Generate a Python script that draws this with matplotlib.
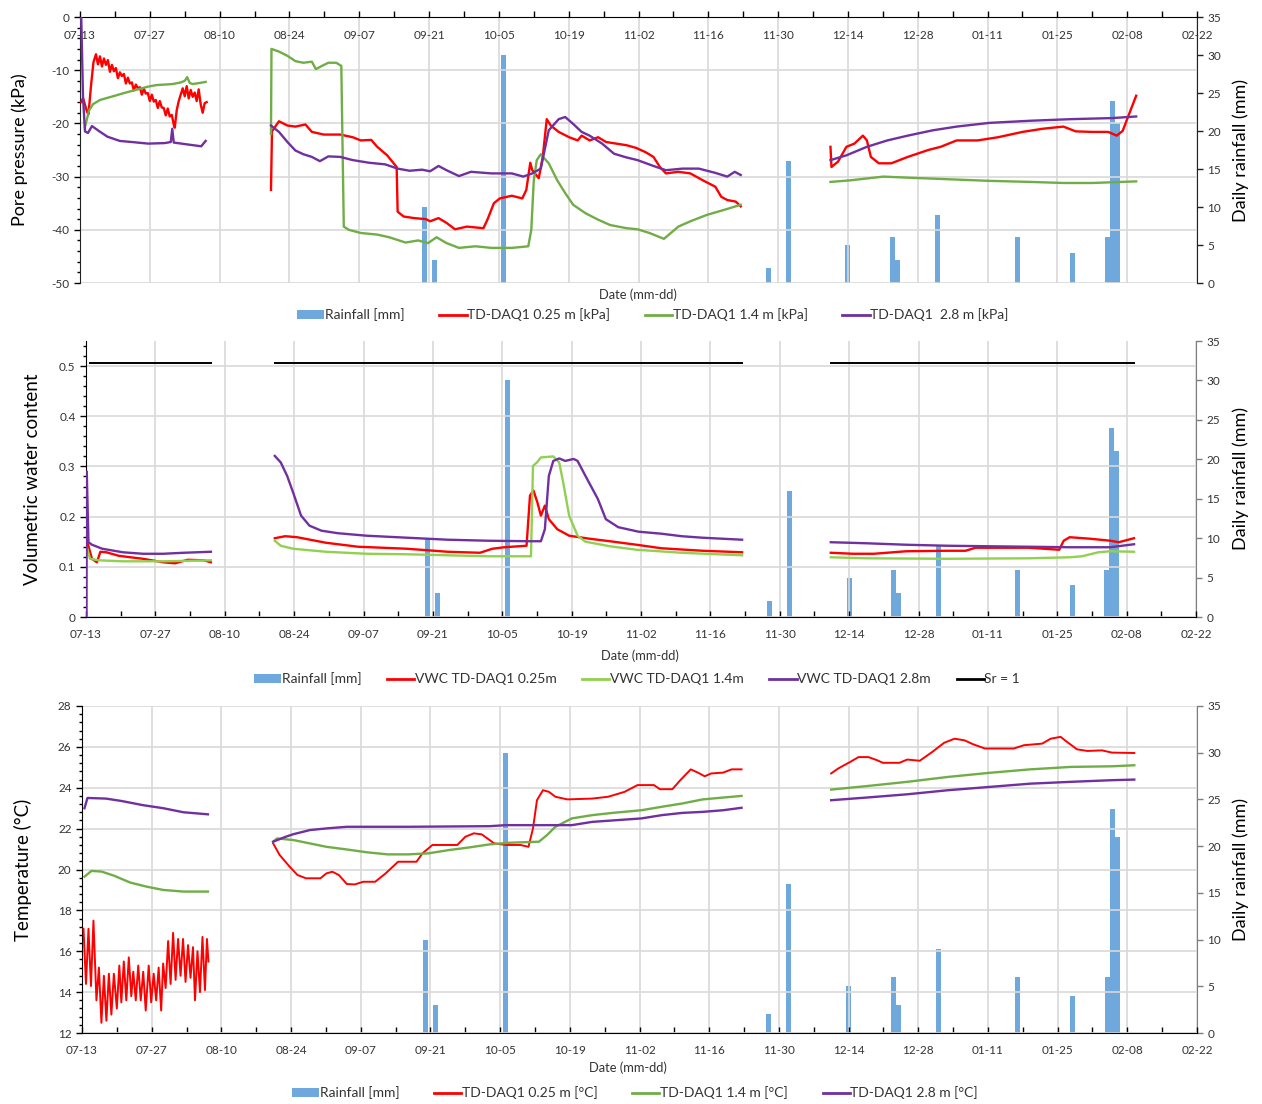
import numpy as np
import matplotlib
matplotlib.use('Agg')
import matplotlib.pyplot as plt
import matplotlib.dates as mdates
from matplotlib.ticker import FixedLocator, MultipleLocator, FuncFormatter
from matplotlib.patches import Patch
from matplotlib.lines import Line2D

plt.rcParams['font.family'] = ['Lato', 'DejaVu Sans']
plt.rcParams['axes.unicode_minus'] = False

START = mdates.datestr2num('2020-07-13')   # day 0 of the record

# daily rainfall (day offset from 07-13, mm)
rain_days = [69, 71, 85, 138, 142, 154, 163, 164, 172, 188, 199, 206, 207, 208]
rain_mm = [10, 3, 30, 2, 16, 5, 6, 3, 9, 6, 4, 6, 24, 21]

# ---- pore pressure (kPa), three logging periods each ----
pp_red_days = [
    [0.3, 0.6, 1.0, 1.4, 1.7, 2.2, 2.7, 3.2, 3.6, 4.0, 4.4, 4.8, 5.2, 5.6, 6.0, 6.4, 6.8, 7.2, 7.6, 8.0,
     8.4, 8.8, 9.2, 9.6, 10.0, 10.4, 10.8, 11.2, 11.6, 12.0, 12.4, 12.8, 13.2, 13.6, 14.0, 14.4, 14.8,
     15.2, 15.6, 16.0, 16.4, 16.8, 17.2, 17.6, 18.0, 18.4, 18.8, 19.0, 19.4, 19.8, 20.2, 20.6, 21.0,
     21.4, 21.8, 22.2, 22.6, 23.0, 23.4, 23.8, 24.2, 24.6, 25.0, 25.4],
    [38.3, 38.5, 39.9, 41.6, 43.2, 45.2, 46.5, 48.9, 52.2, 54.7, 56.3, 58.4, 59.6, 61.6, 62.9, 63.5,
     63.7, 64.9, 67.0, 69.4, 70.2, 71.9, 73.5, 75.2, 77.6, 80.9, 81.7, 83.0, 84.2, 86.6, 88.7, 89.5,
     90.3, 90.7, 92.0, 92.8, 93.6, 94.4, 96.0, 98.1, 99.8, 100.6, 102.2, 103.9, 105.5, 109.6, 111.5,
     113.4, 115.0, 116.3, 117.5, 120.0, 122.4, 124.9, 127.4, 128.6, 129.8, 131.5, 132.5],
    [150.5, 150.7, 152.0, 153.7, 155.3, 157.0, 157.8, 158.6, 160.2, 162.7, 166.0, 170.1, 172.6, 175.8,
     180.0, 184.1, 189.0, 193.1, 197.2, 199.7, 203.0, 206.2, 207.9, 209.1, 210.4, 211.8],
]
pp_red_vals = [
    [-16.0, -15.2, -16.5, -17.8, -18.3, -13.0, -8.5, -7.0, -8.9, -7.4, -9.3, -7.8, -9.0, -8.1, -10.3,
     -9.0, -10.2, -9.6, -11.5, -10.4, -11.1, -10.7, -12.5, -11.4, -12.5, -12.3, -13.8, -12.7, -13.4,
     -13.2, -14.6, -13.5, -14.4, -14.3, -15.8, -14.6, -15.9, -15.6, -17.1, -15.8, -17.0, -17.1, -18.5,
     -17.2, -18.7, -18.4, -20.2, -20.8, -17.5, -15.8, -14.6, -13.4, -14.9, -13.0, -15.3, -13.7, -15.0,
     -14.2, -15.8, -13.6, -16.4, -18.0, -16.2, -16.0],
    [-32.5, -21.5, -19.6, -20.4, -20.6, -20.2, -21.6, -22.1, -22.1, -22.6, -23.2, -23.1, -24.4, -26.0,
     -27.5, -28.2, -36.6, -37.5, -37.8, -38.0, -38.4, -37.8, -38.7, -39.9, -39.4, -39.7, -38.1, -35.0,
     -34.1, -33.6, -34.1, -32.5, -27.4, -28.8, -30.3, -26.3, -19.2, -20.4, -21.6, -22.6, -23.2, -22.3,
     -23.2, -22.6, -23.5, -24.1, -24.6, -25.4, -26.3, -28.2, -29.4, -29.1, -29.4, -30.7, -31.9, -33.8,
     -34.4, -34.7, -35.6],
    [-24.4, -28.2, -27.2, -24.4, -23.8, -22.3, -23.2, -26.3, -27.5, -27.5, -26.3, -25.0, -24.4, -23.2,
     -23.2, -22.6, -21.6, -21.0, -20.6, -21.5, -21.6, -21.6, -22.3, -21.4, -18.2, -14.8],
]
pp_green_days = [
    [1.0, 1.8, 2.6, 4.0, 5.5, 7.0, 8.8, 10.4, 12.0, 13.6, 15.3, 17.0, 18.6, 20.2, 21.0, 21.5, 22.0,
     22.6, 24.0, 25.2],
    [38.3, 38.4, 39.9, 41.6, 43.2, 44.8, 46.5, 47.3, 48.5, 49.8, 51.4, 52.4, 52.9, 53.9, 56.3, 59.6,
     62.0, 65.3, 67.8, 69.8, 71.5, 73.5, 76.0, 79.3, 82.5, 86.6, 89.9, 90.5, 91.0, 91.6, 92.4, 94.0,
     95.7, 97.3, 98.9, 101.4, 103.9, 106.3, 109.6, 111.8, 114.2, 117.1, 120.0, 122.4, 125.7, 129.0,
     132.5],
    [150.5, 154.5, 161.1, 166.0, 174.2, 182.4, 190.6, 197.2, 203.0, 211.8],
]
pp_green_vals = [
    [-20.7, -17.6, -16.4, -15.6, -15.2, -14.8, -14.3, -13.9, -13.5, -13.1, -12.8, -12.7, -12.6, -12.3,
     -12.0, -11.3, -12.4, -12.6, -12.4, -12.2],
    [-22.0, -6.0, -6.5, -7.3, -8.3, -8.6, -8.4, -9.8, -9.2, -8.6, -8.6, -9.2, -39.4, -40.0, -40.6,
     -40.9, -41.4, -42.4, -42.0, -42.5, -41.4, -42.5, -43.4, -43.1, -43.4, -43.4, -43.1, -40.0, -30.7,
     -26.9, -25.8, -27.5, -30.7, -33.1, -35.3, -36.9, -38.1, -39.1, -39.7, -39.9, -40.6, -41.7, -39.4,
     -38.4, -37.2, -36.3, -35.3],
    [-31.0, -30.7, -30.0, -30.2, -30.5, -30.8, -31.0, -31.2, -31.2, -30.9],
]
pp_purple_days = [
    [0.25, 0.6, 1.0, 1.6, 2.4, 3.9, 5.5, 8.0, 10.4, 13.7, 17.0, 18.2, 18.5, 18.8, 21.9, 24.3, 25.2],
    [38.3, 39.9, 41.6, 43.2, 44.8, 46.5, 48.1, 49.8, 52.2, 54.7, 58.0, 61.2, 63.7, 66.1, 68.6, 70.2,
     71.9, 73.5, 76.0, 78.4, 82.5, 86.6, 88.9, 90.7, 92.4, 94.0, 96.0, 97.3, 98.9, 100.6, 102.2, 104.7,
     107.1, 109.6, 111.8, 115.0, 117.5, 120.8, 124.1, 127.4, 129.8, 131.3, 132.5],
    [150.5, 153.7, 157.8, 161.9, 166.0, 171.0, 175.8, 182.4, 190.6, 198.8, 207.0, 211.8],
]
pp_purple_vals = [
    [0.0, -15.0, -21.5, -21.8, -20.5, -21.5, -22.5, -23.3, -23.5, -23.8, -23.7, -23.5, -21.0, -23.6,
     -24.0, -24.3, -23.3],
    [-20.4, -21.6, -23.5, -25.1, -25.8, -26.3, -27.1, -26.2, -26.3, -26.9, -27.4, -27.7, -28.5, -28.9,
     -28.7, -29.0, -28.0, -28.8, -29.9, -29.1, -29.4, -29.4, -30.0, -29.4, -28.5, -21.3, -19.2, -18.8,
     -20.1, -21.6, -22.3, -23.8, -25.7, -26.4, -26.9, -28.0, -28.8, -28.5, -28.5, -29.3, -30.0, -29.1,
     -29.7],
    [-26.9, -26.0, -24.4, -23.2, -22.3, -21.3, -20.6, -19.9, -19.5, -19.2, -19.0, -18.7],
]

# ---- volumetric water content ----
vwc_red_days = [
    [0.25, 1.2, 2.2, 2.9, 4.1, 6.6, 9.0, 11.5, 15.6, 18.0, 20.5, 23.8, 25.2],
    [38.1, 40.2, 42.6, 48.4, 54.9, 64.8, 73.0, 79.5, 82.0, 84.4, 88.9, 89.6, 90.3, 91.1, 91.8, 92.6,
     93.4, 95.1, 97.5, 101.6, 105.7, 111.1, 116.1, 124.4, 132.4],
    [150.3, 154.8, 159.0, 165.5, 173.8, 177.5, 179.5, 190.3, 196.4, 197.3, 198.5, 202.6, 206.7, 208.4,
     211.5],
]
vwc_red_vals = [
    [0.150, 0.116, 0.109, 0.130, 0.129, 0.122, 0.119, 0.116, 0.109, 0.107, 0.114, 0.113, 0.109],
    [0.157, 0.161, 0.159, 0.148, 0.140, 0.136, 0.130, 0.128, 0.136, 0.139, 0.142, 0.242, 0.252, 0.228,
     0.202, 0.222, 0.195, 0.175, 0.162, 0.156, 0.151, 0.144, 0.137, 0.132, 0.129],
    [0.128, 0.126, 0.126, 0.131, 0.132, 0.132, 0.138, 0.138, 0.134, 0.152, 0.159, 0.156, 0.152, 0.149,
     0.157],
]
vwc_green_days = [
    [0.25, 0.8, 2.5, 7.4, 15.6, 25.2],
    [38.1, 39.3, 41.8, 48.4, 56.6, 64.8, 73.0, 81.1, 89.8, 90.2, 91.0, 91.8, 94.3, 95.5, 96.3, 97.5,
     99.2, 100.8, 105.7, 111.1, 120.2, 132.4],
    [150.3, 157.3, 173.8, 190.3, 198.5, 201.0, 204.3, 206.7, 211.5],
]
vwc_green_vals = [
    [0.136, 0.116, 0.113, 0.111, 0.111, 0.113],
    [0.152, 0.142, 0.136, 0.130, 0.126, 0.125, 0.123, 0.121, 0.121, 0.301, 0.308, 0.318, 0.320, 0.308,
     0.268, 0.202, 0.162, 0.150, 0.141, 0.134, 0.128, 0.123],
    [0.119, 0.117, 0.116, 0.117, 0.119, 0.121, 0.129, 0.131, 0.130],
]
vwc_purple_days = [
    [0.1, 0.15, 0.5, 1.2, 3.3, 7.4, 11.5, 15.6, 19.7, 25.2],
    [38.1, 39.3, 40.6, 41.8, 43.4, 45.1, 47.5, 50.8, 56.6, 64.8, 73.0, 81.1, 89.3, 91.8, 92.6, 93.4,
     94.3, 95.5, 96.7, 98.4, 99.2, 100.8, 103.3, 104.9, 107.4, 111.5, 116.1, 120.2, 124.4, 132.4],
    [150.3, 157.3, 165.5, 173.8, 182.0, 190.3, 198.5, 206.7, 211.5],
]
vwc_purple_vals = [
    [0.0, 0.29, 0.149, 0.144, 0.136, 0.129, 0.126, 0.126, 0.128, 0.130],
    [0.321, 0.308, 0.281, 0.248, 0.202, 0.182, 0.172, 0.167, 0.162, 0.158, 0.154, 0.152, 0.151, 0.151,
     0.175, 0.281, 0.311, 0.316, 0.311, 0.315, 0.311, 0.281, 0.235, 0.195, 0.179, 0.170, 0.166, 0.161,
     0.158, 0.154],
    [0.149, 0.147, 0.144, 0.142, 0.141, 0.140, 0.139, 0.139, 0.145],
]
sr1_days = [[0.8, 25.2], [38.1, 132.4], [150.3, 211.5]]
sr1_vals = [[0.506, 0.506], [0.506, 0.506], [0.506, 0.506]]

# ---- temperature (°C) ----
t_red_days = [
    [0.3, 0.8, 1.3, 1.8, 2.3, 2.9, 3.4, 3.9, 4.4, 4.9, 5.4, 5.9, 6.4, 7.0, 7.5, 7.9, 8.4, 8.9, 9.4, 9.9,
     10.3, 10.8, 11.3, 11.8, 12.3, 12.8, 13.4, 13.9, 14.4, 14.9, 15.4, 15.9, 16.3, 16.8, 17.3, 17.8,
     18.3, 18.8, 19.3, 19.8, 20.3, 20.8, 21.3, 21.8, 22.3, 22.7, 23.2, 23.7, 24.2, 24.7, 25.1, 25.4],
    [38.4, 39.7, 41.7, 43.3, 45.0, 47.9, 49.1, 50.3, 51.6, 53.2, 54.8, 56.5, 58.9, 61.0, 63.5, 67.2,
     68.4, 70.4, 72.1, 75.4, 77.0, 78.7, 80.3, 82.8, 85.2, 88.1, 89.7, 90.6, 91.4, 92.6, 93.8, 95.1,
     97.5, 102.5, 105.7, 109.0, 111.6, 114.9, 116.1, 118.6, 120.2, 122.3, 123.9, 125.1, 126.4, 128.8,
     130.5, 132.5],
    [150.5, 151.9, 154.3, 156.0, 158.0, 159.7, 160.9, 164.2, 165.8, 168.3, 170.8, 173.2, 175.3, 177.3,
     179.0, 181.4, 187.2, 189.2, 192.9, 194.6, 196.6, 197.9, 199.9, 202.0, 204.9, 206.9, 211.4],
]
t_red_vals = [
    [17.1, 14.4, 17.1, 14.3, 17.5, 13.6, 15.2, 12.5, 14.8, 12.6, 14.9, 12.9, 14.9, 13.2, 15.3, 13.5,
     15.5, 13.6, 15.7, 13.8, 15.0, 13.6, 15.3, 13.6, 15.0, 13.1, 15.3, 13.5, 14.9, 13.6, 15.2, 13.1,
     15.4, 14.2, 16.5, 14.4, 16.9, 14.6, 16.6, 14.8, 16.6, 14.5, 16.3, 14.7, 16.2, 13.6, 16.0, 14.0,
     16.7, 14.1, 16.6, 15.5],
    [21.28, 20.71, 20.14, 19.73, 19.57, 19.57, 19.81, 19.89, 19.73, 19.29, 19.27, 19.40, 19.40, 19.81,
     20.38, 20.38, 20.79, 21.20, 21.20, 21.20, 21.60, 21.77, 21.72, 21.28, 21.20, 21.20, 21.11, 22.01,
     23.39, 23.88, 23.80, 23.56, 23.43, 23.47, 23.56, 23.80, 24.13, 24.13, 23.93, 23.93, 24.37, 24.90,
     24.72, 24.56, 24.70, 24.74, 24.90, 24.90],
    [24.70, 24.94, 25.26, 25.50, 25.50, 25.35, 25.22, 25.22, 25.38, 25.32, 25.75, 26.20, 26.40, 26.32,
     26.13, 25.92, 25.92, 26.08, 26.16, 26.40, 26.49, 26.24, 25.88, 25.80, 25.83, 25.72, 25.70],
]
t_green_days = [
    [0.5, 1.9, 3.9, 6.4, 9.7, 13.0, 16.3, 20.4, 25.3],
    [38.4, 39.2, 42.5, 49.1, 53.2, 57.3, 61.4, 65.5, 69.6, 73.7, 77.8, 81.9, 86.0, 91.8, 93.4, 95.1,
     98.4, 102.5, 106.6, 112.4, 116.5, 120.6, 124.7, 128.8, 132.5],
    [150.5, 157.6, 165.8, 174.0, 182.3, 190.5, 198.7, 206.9, 211.4],
]
t_green_vals = [
    [19.65, 19.93, 19.90, 19.70, 19.36, 19.16, 19.00, 18.92, 18.92],
    [21.36, 21.52, 21.44, 21.11, 20.98, 20.84, 20.74, 20.74, 20.79, 20.95, 21.08, 21.23, 21.31, 21.36,
     21.68, 22.09, 22.50, 22.66, 22.77, 22.90, 23.07, 23.23, 23.43, 23.52, 23.60],
    [23.91, 24.08, 24.29, 24.53, 24.73, 24.90, 25.02, 25.05, 25.10],
]
t_purple_days = [
    [0.5, 1.1, 4.8, 8.0, 12.2, 16.3, 20.4, 25.3],
    [38.4, 40.9, 42.5, 45.8, 49.1, 53.2, 65.5, 81.9, 85.2, 98.4, 102.5, 106.6, 112.4, 116.5, 120.6,
     124.7, 128.8, 132.5],
    [150.5, 157.6, 165.8, 174.0, 182.3, 190.5, 198.7, 206.9, 211.4],
]
t_purple_vals = [
    [23.00, 23.50, 23.47, 23.35, 23.15, 23.00, 22.80, 22.70],
    [21.36, 21.60, 21.73, 21.93, 22.01, 22.09, 22.09, 22.12, 22.17, 22.17, 22.33, 22.40, 22.50, 22.66,
     22.77, 22.82, 22.90, 23.02],
    [23.39, 23.52, 23.68, 23.88, 24.04, 24.20, 24.29, 24.37, 24.40],
]

RED = '#FF0000'
GREEN = '#70AD47'
LGREEN = '#92D050'
PURPLE = '#7030A0'
BLUE = '#6FA8DC'
GRID = '#D9D9D9'
TXT = '#333333'

W, H = 1262, 1104
fig = plt.figure(figsize=(W / 100, H / 100), dpi=100)


def px_rect(l, r, t, b):
    return [l / W, 1 - b / H, (r - l) / W, (b - t) / H]


def panel(rect, ylim, ystep, yminor, ylabel, right_spine, lab_x, lab_rx, xpad, lab_size):
    ax = fig.add_axes(rect)
    axr = ax.twinx()
    ax.set_zorder(axr.get_zorder() + 1)
    ax.patch.set_visible(False)

    axr.bar(START + np.array(rain_days), rain_mm, width=1.0, color=BLUE, zorder=2)
    axr.set_ylim(0, 35)
    axr.yaxis.set_major_locator(MultipleLocator(5))
    axr.tick_params(axis='y', direction='out', length=4, width=1, colors=right_spine,
                    labelcolor=TXT, labelsize=8.5)
    for s in ['left', 'top', 'bottom']:
        axr.spines[s].set_visible(False)
    axr.spines['right'].set_color(right_spine)
    axr.set_ylabel('Daily rainfall (mm)', fontsize=13, color='black')
    axr.yaxis.set_label_coords(lab_rx, 0.5)

    ax.set_xlim(START, START + 224)
    ax.xaxis.set_major_locator(FixedLocator(START + np.arange(0, 225, 14)))
    ax.xaxis.set_minor_locator(FixedLocator(START + np.arange(7, 225, 14)))
    ax.xaxis.set_major_formatter(mdates.DateFormatter('%m-%d'))
    ax.tick_params(axis='x', which='both', direction='in', length=4, width=1,
                   labelsize=8.5, labelcolor=TXT, pad=xpad)
    ax.set_ylim(*ylim)
    ax.yaxis.set_major_locator(MultipleLocator(ystep))
    ax.yaxis.set_minor_locator(MultipleLocator(yminor))
    ax.tick_params(axis='y', which='major', direction='out', length=4, width=1,
                   labelsize=8.5, labelcolor=TXT)
    ax.tick_params(axis='y', which='minor', direction='out', length=2.5, width=1)
    ax.spines['top'].set_visible(False)
    ax.spines['right'].set_visible(False)
    ax.grid(True, which='major', color=GRID, lw=1.2)
    ax.set_axisbelow(True)
    ax.set_ylabel(ylabel, fontsize=lab_size)
    ax.yaxis.set_label_coords(lab_x, 0.5)
    return ax, axr


def draw(ax, days_segs, vals_segs, color, lw=1.7):
    for d, v in zip(days_segs, vals_segs):
        ax.plot(START + np.array(d), v, color=color, lw=lw, zorder=3)


rain_handle = Patch(facecolor=BLUE, edgecolor='none')


def line_handle(color):
    return Line2D([], [], color=color, lw=2.0)


def put_legend(cx, cy, handles, labels, spacing=2.5):
    fig.legend(handles, labels, loc='center', bbox_to_anchor=(cx, cy), ncol=len(labels),
               frameon=False, fontsize=10, handlelength=1.95, handletextpad=0.05,
               columnspacing=spacing, labelcolor=TXT, borderpad=0.2)


def date_label(cx, cy):
    fig.text(cx / W, 1 - cy / H, 'Date (mm-dd)', ha='center', va='center', fontsize=9.3,
             color=TXT)


# ---------------- panel 1: pore pressure ----------------
ax1, ax1r = panel(px_rect(80, 1197, 17, 283), (-50, 0), 10, 2, 'Pore pressure (kPa)',
                  '#222222', -0.0466, 1.0313, 9.5, 13)
ax1.spines['bottom'].set_position(('data', 0))
ax1.spines['bottom'].set_color('black')
ax1.spines['left'].set_color('#222222')
draw(ax1, pp_red_days, pp_red_vals, RED)
draw(ax1, pp_green_days, pp_green_vals, GREEN)
draw(ax1, pp_purple_days, pp_purple_vals, PURPLE)
date_label(638, 295)
put_legend(653 / W, 1 - 315 / H,
           [rain_handle, line_handle(RED), line_handle(GREEN), line_handle(PURPLE)],
           ['Rainfall [mm]', 'TD-DAQ1 0.25 m [kPa]', 'TD-DAQ1 1.4 m [kPa]', 'TD-DAQ1  2.8 m [kPa]'])

# ---------------- panel 2: volumetric water content ----------------
ax2, ax2r = panel(px_rect(86, 1196, 341, 617), (0, 0.55), 0.1, 0.02, 'Volumetric water content',
                  '#7F7F7F', -0.0405, 1.0324, 9, 13.5)
ax2.yaxis.set_major_formatter(FuncFormatter(lambda v, _: '0' if abs(v) < 1e-9 else f'{v:.1f}'))
draw(ax2, vwc_red_days, vwc_red_vals, RED)
draw(ax2, vwc_green_days, vwc_green_vals, LGREEN)
draw(ax2, vwc_purple_days, vwc_purple_vals, PURPLE)
draw(ax2, sr1_days, sr1_vals, 'black', lw=1.4)
date_label(640, 656)
put_legend(637 / W, 1 - 679 / H,
           [rain_handle, line_handle(RED), line_handle(LGREEN), line_handle(PURPLE),
            line_handle('black')],
           ['Rainfall [mm]', 'VWC TD-DAQ1 0.25m', 'VWC TD-DAQ1 1.4m', 'VWC TD-DAQ1 2.8m', 'Sr = 1'],
           spacing=1.85)

# ---------------- panel 3: temperature ----------------
ax3, ax3r = panel(px_rect(82, 1197, 706, 1033), (12, 28), 2, 0.4, 'Temperature (°C)',
                  '#7F7F7F', -0.0448, 1.0314, 8.5, 13.5)
draw(ax3, t_red_days, t_red_vals, RED, lw=1.4)
draw(ax3, t_green_days, t_green_vals, GREEN)
draw(ax3, t_purple_days, t_purple_vals, PURPLE)
date_label(628, 1068)
put_legend(635 / W, 1 - 1093 / H,
           [rain_handle, line_handle(RED), line_handle(GREEN), line_handle(PURPLE)],
           ['Rainfall [mm]', 'TD-DAQ1 0.25 m [°C]', 'TD-DAQ1 1.4 m [°C]', 'TD-DAQ1 2.8 m [°C]'])

fig.savefig('out.png', dpi=100)
